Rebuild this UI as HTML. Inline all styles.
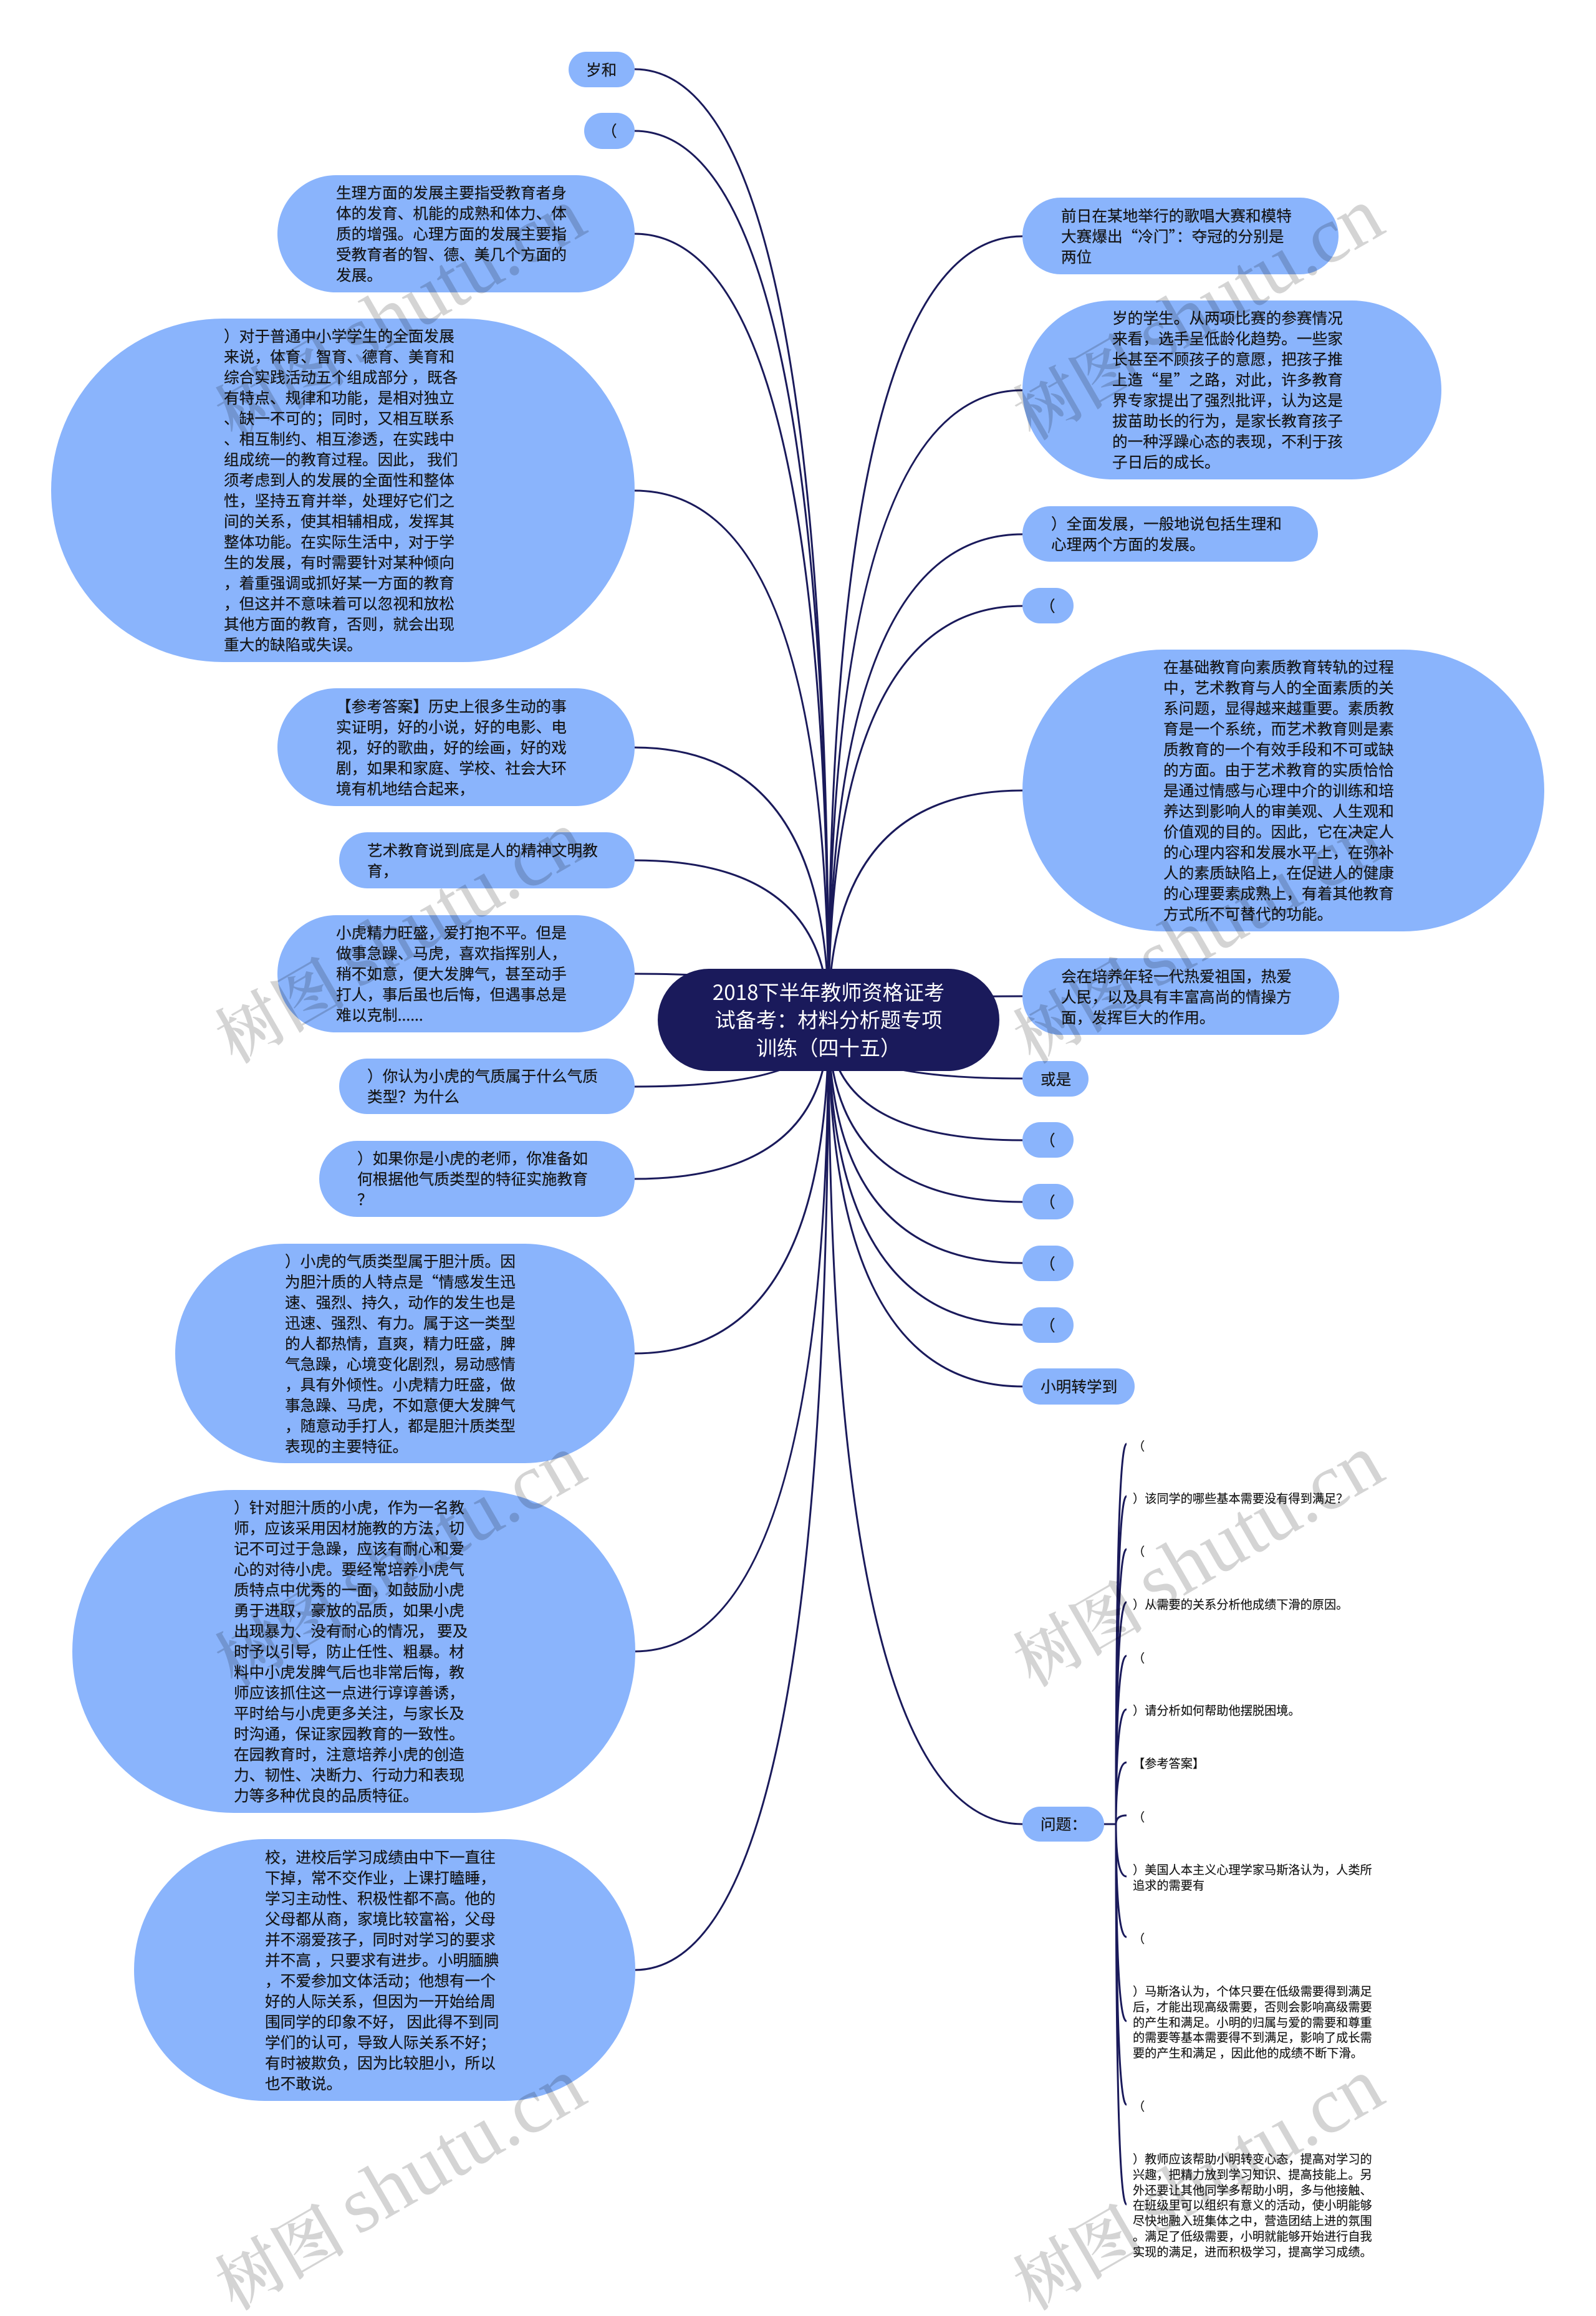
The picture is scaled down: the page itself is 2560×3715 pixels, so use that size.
<!DOCTYPE html>
<html lang="zh-Hans">
<head>
<meta charset="utf-8">
<title>2018下半年教师资格证考试备考：材料分析题专项训练（四十五）</title>
<style>
html,body{margin:0;padding:0;background:#fff}
#p{position:relative;width:2560px;height:3715px;overflow:hidden;background:#fff;font-family:"Noto Sans CJK SC","Liberation Sans",sans-serif;color:#141414}
svg{position:absolute;left:0;top:0}
.n{position:absolute;box-sizing:border-box;background:#8ab4fc;border-radius:9999px;display:flex;align-items:center;font-size:24.66px;line-height:33px;white-space:nowrap;-webkit-text-stroke:.2px #141414}
.n>div{position:relative;top:-.5px}
.s{position:absolute;left:1817px;font-size:19.2px;line-height:24.8px;white-space:nowrap;transform:translateY(-50%);-webkit-text-stroke:.15px #141414}
.r{position:absolute;left:1055px;top:1554px;width:548px;height:164px;background:#1a1a5b;border-radius:9999px;color:#fff;font-size:33.2px;line-height:44.4px;text-align:center;display:flex;align-items:center;justify-content:center;white-space:nowrap}
.r>div{position:relative;top:-1.5px}
</style>
</head>
<body>
<div id="p">
<svg width="2560" height="3715" fill="none" stroke="#1a1a5b" stroke-width="3">
<path d="M1018 111Q1329 111 1329 1636"/>
<path d="M1018 210Q1329 210 1329 1636"/>
<path d="M1018 375Q1329 375 1329 1636"/>
<path d="M1018 787Q1329 787 1329 1636"/>
<path d="M1018 1199Q1329 1199 1329 1636"/>
<path d="M1018 1380Q1329 1380 1329 1636"/>
<path d="M1018 1562Q1329 1562 1329 1636"/>
<path d="M1018 1743Q1329 1743 1329 1636"/>
<path d="M1018 1891Q1329 1891 1329 1636"/>
<path d="M1018 2171Q1329 2171 1329 1636"/>
<path d="M1018 2649Q1329 2649 1329 1636"/>
<path d="M1018 3160Q1329 3160 1329 1636"/>
<path d="M1640 379Q1329 379 1329 1636"/>
<path d="M1640 626Q1329 626 1329 1636"/>
<path d="M1640 857Q1329 857 1329 1636"/>
<path d="M1640 972Q1329 972 1329 1636"/>
<path d="M1640 1268Q1329 1268 1329 1636"/>
<path d="M1640 1598Q1329 1598 1329 1636"/>
<path d="M1640 1730Q1329 1730 1329 1636"/>
<path d="M1640 1829Q1329 1829 1329 1636"/>
<path d="M1640 1928Q1329 1928 1329 1636"/>
<path d="M1640 2026Q1329 2026 1329 1636"/>
<path d="M1640 2125Q1329 2125 1329 1636"/>
<path d="M1640 2224Q1329 2224 1329 1636"/>
<path d="M1640 2926Q1329 2926 1329 1636"/>
<path d="M1771 2926H1790Q1790 2316 1807 2316"/>
<path d="M1771 2926H1790Q1790 2400 1807 2400"/>
<path d="M1771 2926H1790Q1790 2485 1807 2485"/>
<path d="M1771 2926H1790Q1790 2570 1807 2570"/>
<path d="M1771 2926H1790Q1790 2656 1807 2656"/>
<path d="M1771 2926H1790Q1790 2742 1807 2742"/>
<path d="M1771 2926H1790Q1790 2827 1807 2827"/>
<path d="M1771 2926H1790Q1790 2912 1807 2912"/>
<path d="M1771 2926H1790Q1790 3010 1807 3010"/>
<path d="M1771 2926H1790Q1790 3107 1807 3107"/>
<path d="M1771 2926H1790Q1790 3242 1807 3242"/>
<path d="M1771 2926H1790Q1790 3376 1807 3376"/>
<path d="M1771 2926H1790Q1790 3536 1807 3536"/>
</svg>

<div class="n" style="left:912px;top:83px;width:106px;height:57px;padding-left:28px"><div>岁和</div></div>
<div class="n" style="left:937px;top:181px;width:81px;height:58px;padding-left:28px"><div>（</div></div>
<div class="n" style="left:445px;top:281px;width:573px;height:188px;padding-left:94px"><div>生理方面的发展主要指受教育者身<br>体的发育、机能的成熟和体力、体<br>质的增强。心理方面的发展主要指<br>受教育者的智、德、美几个方面的<br>发展。</div></div>
<div class="n" style="left:82px;top:511px;width:936px;height:551px;padding-left:277px"><div>）对于普通中小学学生的全面发展<br>来说，体育、智育、德育、美育和<br>综合实践活动五个组成部分 ，既各<br>有特点、规律和功能，是相对独立<br>、缺一不可的；同时，又相互联系<br>、相互制约、相互渗透，在实践中<br>组成统一的教育过程。因此， 我们<br>须考虑到人的发展的全面性和整体<br>性，坚持五育并举，处理好它们之<br>间的关系，使其相辅相成，发挥其<br>整体功能。在实际生活中，对于学<br>生的发展，有时需要针对某种倾向<br>，着重强调或抓好某一方面的教育<br>，但这并不意味着可以忽视和放松<br>其他方面的教育，否则，就会出现<br>重大的缺陷或失误。</div></div>
<div class="n" style="left:445px;top:1104px;width:573px;height:189px;padding-left:94px"><div>【参考答案】历史上很多生动的事<br>实证明，好的小说，好的电影、电<br>视，好的歌曲，好的绘画，好的戏<br>剧，如果和家庭、学校、社会大环<br>境有机地结合起来，</div></div>
<div class="n" style="left:544px;top:1335px;width:474px;height:90px;padding-left:45px"><div>艺术教育说到底是人的精神文明教<br>育，</div></div>
<div class="n" style="left:445px;top:1468px;width:573px;height:188px;padding-left:94px"><div>小虎精力旺盛，爱打抱不平。但是<br>做事急躁、马虎，喜欢指挥别人，<br>稍不如意，便大发脾气，甚至动手<br>打人，事后虽也后悔，但遇事总是<br>难以克制......</div></div>
<div class="n" style="left:544px;top:1698px;width:474px;height:89px;padding-left:45px"><div>）你认为小虎的气质属于什么气质<br>类型？为什么</div></div>
<div class="n" style="left:512px;top:1830px;width:506px;height:122px;padding-left:61px"><div>）如果你是小虎的老师，你准备如<br>何根据他气质类型的特征实施教育<br>？</div></div>
<div class="n" style="left:281px;top:1995px;width:737px;height:352px;padding-left:176px"><div>）小虎的气质类型属于胆汁质。因<br>为胆汁质的人特点是“情感发生迅<br>速、强烈、持久，动作的发生也是<br>迅速、强烈、有力。属于这一类型<br>的人都热情，直爽，精力旺盛，脾<br>气急躁，心境变化剧烈，易动感情<br>，具有外倾性。小虎精力旺盛，做<br>事急躁、马虎，不如意便大发脾气<br>，随意动手打人，都是胆汁质类型<br>表现的主要特征。</div></div>
<div class="n" style="left:116px;top:2390px;width:903px;height:518px;padding-left:259px"><div>）针对胆汁质的小虎，作为一名教<br>师，应该采用因材施教的方法，切<br>记不可过于急躁，应该有耐心和爱<br>心的对待小虎。要经常培养小虎气<br>质特点中优秀的一面，如鼓励小虎<br>勇于进取，豪放的品质，如果小虎<br>出现暴力、没有耐心的情况， 要及<br>时予以引导，防止任性、粗暴。材<br>料中小虎发脾气后也非常后悔，教<br>师应该抓住这一点进行谆谆善诱，<br>平时给与小虎更多关注，与家长及<br>时沟通，保证家园教育的一致性。<br>在园教育时，注意培养小虎的创造<br>力、韧性、决断力、行动力和表现<br>力等多种优良的品质特征。</div></div>
<div class="n" style="left:215px;top:2950px;width:804px;height:420px;padding-left:210px"><div>校，进校后学习成绩由中下一直往<br>下掉，常不交作业，上课打瞌睡，<br>学习主动性、积极性都不高。他的<br>父母都从商，家境比较富裕，父母<br>并不溺爱孩子，同时对学习的要求<br>并不高 ，只要求有进步。小明腼腆<br>，不爱参加文体活动；他想有一个<br>好的人际关系，但因为一开始给周<br>围同学的印象不好， 因此得不到同<br>学们的认可，导致人际关系不好；<br>有时被欺负，因为比较胆小，所以<br>也不敢说。</div></div>

<div class="n" style="left:1640px;top:317px;width:507px;height:123px;padding-left:62px"><div>前日在某地举行的歌唱大赛和模特<br>大赛爆出“冷门”：夺冠的分别是<br>两位</div></div>
<div class="n" style="left:1640px;top:482px;width:672px;height:287px;padding-left:144px"><div>岁的学生。从两项比赛的参赛情况<br>来看，选手呈低龄化趋势。一些家<br>长甚至不顾孩子的意愿，把孩子推<br>上造“星”之路，对此，许多教育<br>界专家提出了强烈批评，认为这是<br>拔苗助长的行为，是家长教育孩子<br>的一种浮躁心态的表现，不利于孩<br>子日后的成长。</div></div>
<div class="n" style="left:1640px;top:812px;width:474px;height:89px;padding-left:46px"><div>）全面发展，一般地说包括生理和<br>心理两个方面的发展。</div></div>
<div class="n" style="left:1640px;top:943px;width:82px;height:57px;padding-left:28px"><div>（</div></div>
<div class="n" style="left:1640px;top:1042px;width:837px;height:452px;padding-left:226px"><div>在基础教育向素质教育转轨的过程<br>中，艺术教育与人的全面素质的关<br>系问题，显得越来越重要。素质教<br>育是一个系统，而艺术教育则是素<br>质教育的一个有效手段和不可或缺<br>的方面。由于艺术教育的实质恰恰<br>是通过情感与心理中介的训练和培<br>养达到影响人的审美观、人生观和<br>价值观的目的。因此，它在决定人<br>的心理内容和发展水平上，在弥补<br>人的素质缺陷上，在促进人的健康<br>的心理要素成熟上，有着其他教育<br>方式所不可替代的功能。</div></div>
<div class="n" style="left:1640px;top:1537px;width:508px;height:123px;padding-left:62px"><div>会在培养年轻一代热爱祖国，热爱<br>人民，以及具有丰富高尚的情操方<br>面，发挥巨大的作用。</div></div>
<div class="n" style="left:1640px;top:1702px;width:106px;height:57px;padding-left:29px"><div>或是</div></div>
<div class="n" style="left:1640px;top:1800px;width:82px;height:57px;padding-left:28px"><div>（</div></div>
<div class="n" style="left:1640px;top:1899px;width:82px;height:57px;padding-left:28px"><div>（</div></div>
<div class="n" style="left:1640px;top:1998px;width:82px;height:57px;padding-left:28px"><div>（</div></div>
<div class="n" style="left:1640px;top:2097px;width:82px;height:57px;padding-left:28px"><div>（</div></div>
<div class="n" style="left:1640px;top:2195px;width:180px;height:58px;padding-left:29px"><div>小明转学到</div></div>
<div class="n" style="left:1640px;top:2898px;width:131px;height:56px;padding-left:29px"><div>问题：</div></div>

<div class="s" style="top:2319px">（</div>
<div class="s" style="top:2403px">）该同学的哪些基本需要没有得到满足？</div>
<div class="s" style="top:2488px">（</div>
<div class="s" style="top:2573px">）从需要的关系分析他成绩下滑的原因。</div>
<div class="s" style="top:2659px">（</div>
<div class="s" style="top:2743px">）请分析如何帮助他摆脱困境。</div>
<div class="s" style="top:2828px">【参考答案】</div>
<div class="s" style="top:2914px">（</div>
<div class="s" style="top:3011px">）美国人本主义心理学家马斯洛认为，人类所<br>追求的需要有</div>
<div class="s" style="top:3109px">（</div>
<div class="s" style="top:3243px">）马斯洛认为，个体只要在低级需要得到满足<br>后，才能出现高级需要，否则会影响高级需要<br>的产生和满足。小明的归属与爱的需要和尊重<br>的需要等基本需要得不到满足，影响了成长需<br>要的产生和满足 ，因此他的成绩不断下滑。</div>
<div class="s" style="top:3378px">（</div>
<div class="s" style="top:3537px">）教师应该帮助小明转变心态，提高对学习的<br>兴趣，把精力放到学习知识、提高技能上。另<br>外还要让其他同学多帮助小明，多与他接触、<br>在班级里可以组织有意义的活动，使小明能够<br>尽快地融入班集体之中，营造团结上进的氛围<br>。满足了低级需要，小明就能够开始进行自我<br>实现的满足，进而积极学习，提高学习成绩。</div>

<div class="r"><div>2018下半年教师资格证考<br>试备考：材料分析题专项<br>训练（四十五）</div></div>

<svg width="2560" height="3715" font-family="'Liberation Serif','Noto Serif CJK SC',serif" fill="#000" fill-opacity=".17">
<g transform="translate(376,707) rotate(-30)"><text font-size="105" font-weight="600">树图</text><text x="232" y="-6" font-size="128">shutu.cn</text></g>
<g transform="translate(1656,707) rotate(-30)"><text font-size="105" font-weight="600">树图</text><text x="232" y="-6" font-size="128">shutu.cn</text></g>
<g transform="translate(376,1707) rotate(-30)"><text font-size="105" font-weight="600">树图</text><text x="232" y="-6" font-size="128">shutu.cn</text></g>
<g transform="translate(1656,1707) rotate(-30)"><text font-size="105" font-weight="600">树图</text><text x="232" y="-6" font-size="128">shutu.cn</text></g>
<g transform="translate(376,2707) rotate(-30)"><text font-size="105" font-weight="600">树图</text><text x="232" y="-6" font-size="128">shutu.cn</text></g>
<g transform="translate(1656,2707) rotate(-30)"><text font-size="105" font-weight="600">树图</text><text x="232" y="-6" font-size="128">shutu.cn</text></g>
<g transform="translate(376,3707) rotate(-30)"><text font-size="105" font-weight="600">树图</text><text x="232" y="-6" font-size="128">shutu.cn</text></g>
<g transform="translate(1656,3707) rotate(-30)"><text font-size="105" font-weight="600">树图</text><text x="232" y="-6" font-size="128">shutu.cn</text></g>
</svg>
</div>
</body>
</html>
